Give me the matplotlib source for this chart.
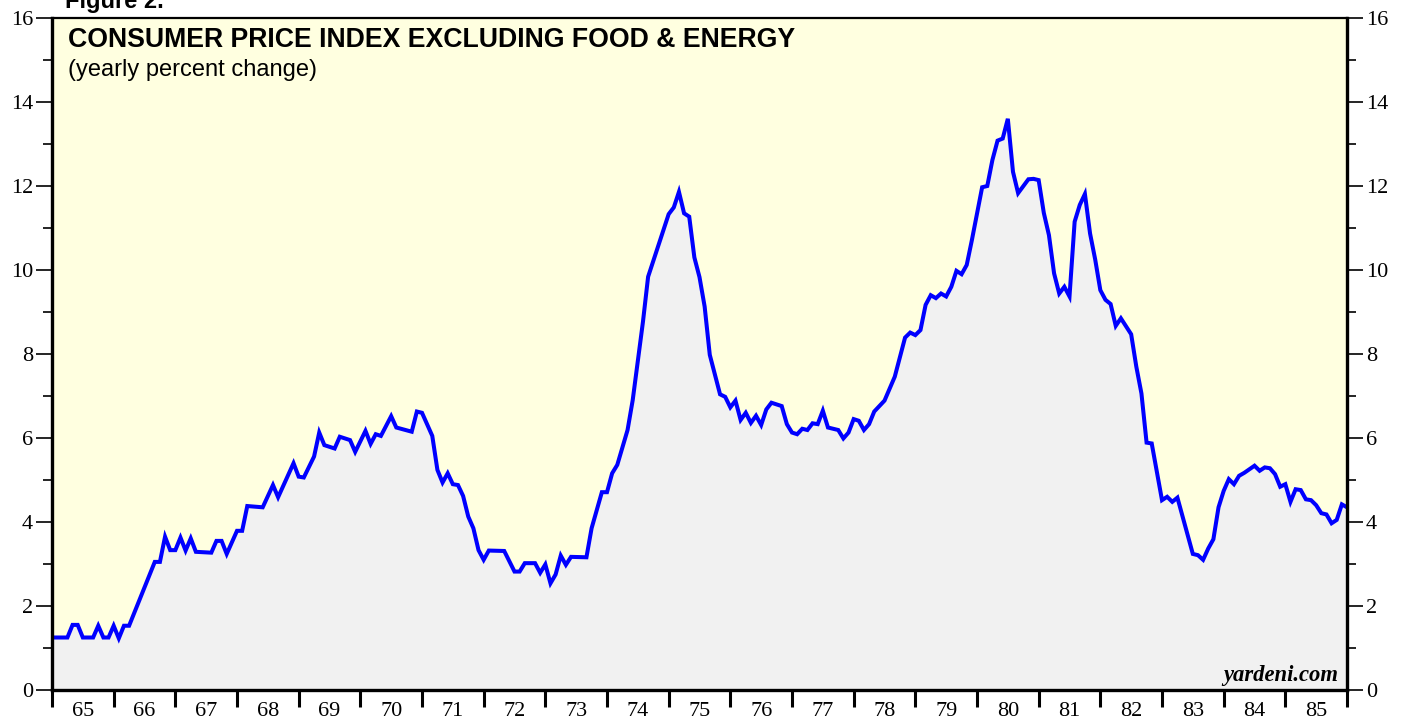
import matplotlib
matplotlib.use("Agg")
import matplotlib.pyplot as plt
import numpy as np

# months since Jan 1965 and the yearly % change of core CPI
months = [0, 3, 4, 5, 6, 8, 9, 10, 11, 12, 13, 14, 15, 20, 21, 22, 23, 24, 25, 26,
          27, 28, 31, 32, 33, 34, 36, 37, 38, 41, 43, 44, 47, 48, 49, 51, 52, 53, 55, 56,
          58, 59, 61, 62, 63, 64, 66, 67, 70, 71, 72, 74, 75, 76, 77, 78, 79, 80, 81, 82,
          83, 84, 85, 88, 90, 91, 92, 94, 95, 96, 97, 98, 99, 100, 101, 104, 105, 107, 108, 109,
          110, 112, 113, 115, 116, 120, 121, 122, 123, 124, 125, 126, 127, 128, 130, 131, 132, 133, 134, 135,
          136, 137, 138, 139, 140, 142, 143, 144, 145, 146, 147, 148, 149, 150, 151, 153, 154, 155, 156, 157,
          158, 159, 160, 162, 164, 166, 167, 168, 169, 170, 171, 172, 173, 174, 175, 176, 177, 178, 179, 181,
          182, 183, 184, 185, 186, 187, 188, 190, 191, 192, 193, 194, 195, 196, 197, 198, 199, 200, 201, 202,
          203, 204, 205, 206, 207, 208, 210, 211, 212, 213, 214, 216, 217, 218, 219, 222, 223, 224, 225, 226,
          227, 228, 229, 230, 231, 232, 234, 235, 236, 237, 238, 239, 240, 241, 242, 243, 244, 245, 246, 247,
          248, 249, 250, 251, 252]
cpi = [1.25, 1.25, 1.55, 1.55, 1.25, 1.25, 1.53, 1.25, 1.25, 1.53, 1.23, 1.53, 1.53, 3.05, 3.05, 3.65, 3.33, 3.33, 3.63, 3.32,
       3.61, 3.29, 3.27, 3.55, 3.55, 3.24, 3.79, 3.79, 4.38, 4.35, 4.88, 4.59, 5.40, 5.08, 5.06, 5.56, 6.13, 5.83, 5.75, 6.03,
       5.95, 5.67, 6.17, 5.86, 6.09, 6.05, 6.52, 6.25, 6.15, 6.63, 6.60, 6.05, 5.24, 4.94, 5.16, 4.90, 4.88, 4.62, 4.13, 3.85,
       3.33, 3.10, 3.32, 3.31, 2.82, 2.82, 3.02, 3.02, 2.79, 2.99, 2.54, 2.75, 3.20, 2.98, 3.17, 3.16, 3.85, 4.71, 4.71, 5.16,
       5.36, 6.19, 6.90, 8.77, 9.84, 11.33, 11.49, 11.86, 11.35, 11.27, 10.30, 9.83, 9.13, 7.98, 7.04, 6.98, 6.73, 6.89, 6.43, 6.60,
       6.36, 6.53, 6.31, 6.68, 6.84, 6.76, 6.33, 6.13, 6.09, 6.22, 6.19, 6.35, 6.33, 6.65, 6.25, 6.19, 5.99, 6.13, 6.45, 6.41,
       6.19, 6.33, 6.63, 6.89, 7.46, 8.39, 8.51, 8.45, 8.57, 9.17, 9.40, 9.33, 9.44, 9.37, 9.60, 9.98, 9.90, 10.12, 10.71, 11.97,
       12.00, 12.62, 13.08, 13.13, 13.60, 12.34, 11.83, 12.16, 12.17, 12.14, 11.36, 10.83, 9.92, 9.44, 9.60, 9.37, 11.15, 11.55, 11.81, 10.87,
       10.25, 9.52, 9.29, 9.19, 8.67, 8.85, 8.47, 7.70, 7.06, 5.89, 5.87, 4.52, 4.60, 4.48, 4.58, 3.24, 3.21, 3.10, 3.37, 3.59,
       4.35, 4.74, 5.02, 4.90, 5.10, 5.17, 5.34, 5.22, 5.30, 5.28, 5.14, 4.84, 4.90, 4.48, 4.78, 4.76, 4.54, 4.52, 4.40, 4.21,
       4.18, 3.97, 4.05, 4.42, 4.35]

years = list(range(1965, 1987))
year_labels = [str(y)[2:] for y in years[:-1]]

serif = "Liberation Serif"
sans = "Liberation Sans"

x = 1965 + np.array(months) / 12.0

fig = plt.figure(figsize=(14.07, 7.19), dpi=100)
ax = fig.add_axes([52/1407, 1 - 690/719, (1347 - 52)/1407, (690 - 18)/719])
ax.set_facecolor("#ffffe0")

ax.fill_between(x, cpi, 0, color="#f1f1f1", zorder=1)
ax.plot(x, cpi, color="#0000ff", lw=2.9, zorder=2, solid_joinstyle="miter")

ax.set_xlim(1965, 1986)
ax.set_ylim(0, 16)

# y axis: ticks on both sides
ax.set_yticks(range(0, 17, 2))
ax.set_yticks(range(1, 16, 2), minor=True)
ax.tick_params(axis="y", which="major", direction="out", length=11.5, width=1.2,
               left=True, right=True, labelleft=True, labelright=True, pad=2,
               labelsize=16)
ax.tick_params(axis="y", which="minor", direction="out", length=6.5, width=1.2,
               left=True, right=True)
for lab in ax.get_yticklabels():
    lab.set_fontfamily(serif)

# x axis: year boundaries as long ticks, labels at mid-year
ax.set_xticks(years)
ax.set_xticklabels([])
ax.set_xticks([y + 0.5 for y in years[:-1]], minor=True)
ax.set_xticklabels(year_labels, minor=True, fontfamily=serif, fontsize=16)
ax.tick_params(axis="x", which="major", direction="out", length=12, width=2.2)
ax.tick_params(axis="x", which="minor", length=0, pad=9)

for side in ["left", "right", "bottom"]:
    ax.spines[side].set_linewidth(2.4)
ax.spines["top"].set_linewidth(1.6)

ax.text(0.012, 0.968, "CONSUMER PRICE INDEX EXCLUDING FOOD & ENERGY", transform=ax.transAxes,
        fontfamily=sans, fontweight="bold", fontsize=19.2, va="center", ha="left")
ax.text(0.012, 0.922, "(yearly percent change)", transform=ax.transAxes,
        fontfamily=sans, fontsize=17, va="center", ha="left")
ax.text(0.993, 0.021, "yardeni.com", transform=ax.transAxes, fontfamily=serif,
        fontweight="bold", style="italic", fontsize=16.3, ha="right", va="center")

fig.text(65/1407, 1 - 8/719, "Figure 2.", fontfamily=sans, fontweight="bold",
         fontsize=17, ha="left", va="baseline")

fig.savefig("out.png", dpi=100)
